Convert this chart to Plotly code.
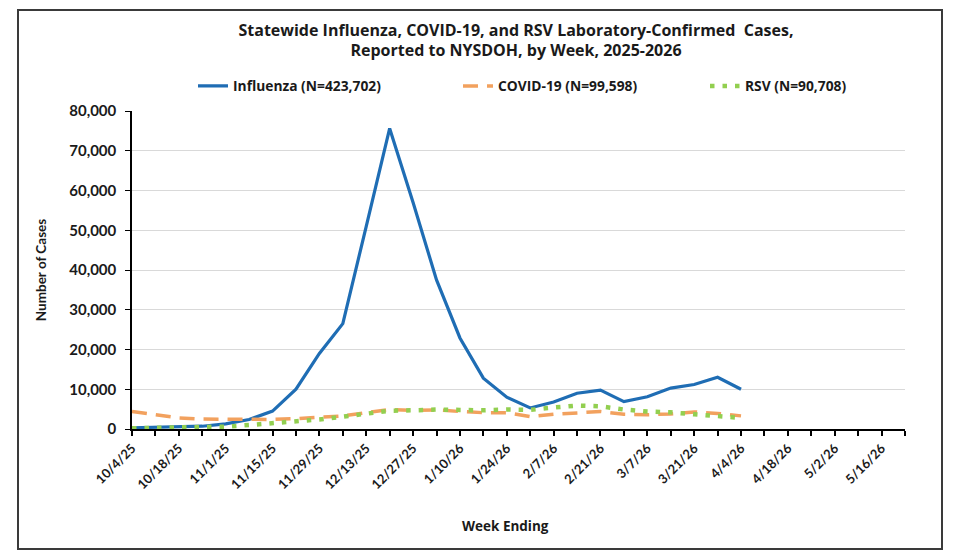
import plotly.graph_objects as go
import datetime as dt

# Week-ending dates (categories), 10/4/25 .. 5/23/26
start = dt.date(2025, 10, 4)
weeks = [start + dt.timedelta(days=7 * i) for i in range(34)]
week_labels = [f"{d.month}/{d.day}/{d.year % 100}" for d in weeks]

influenza = [300, 400, 500, 700, 1300, 2400, 4500, 10000, 19000, 26500, 51000, 75600,
             57000, 37500, 22900, 12800, 8000, 5300, 6800, 9000, 9800, 6900, 8100,
             10300, 11200, 13000, 10000]
covid = [4400, 3500, 2800, 2500, 2400, 2400, 2400, 2600, 2900, 3300, 4100, 4900,
         4700, 4800, 4400, 4100, 4100, 3100, 3700, 4100, 4400, 3700, 3600, 3800,
         4300, 3900, 3300]
rsv = [200, 250, 300, 400, 600, 1000, 1400, 1900, 2400, 3100, 3900, 4600, 4700,
       4900, 4800, 4700, 4900, 4800, 5400, 5900, 5700, 4900, 4400, 4200, 3700,
       3200, 2800]

series_names = ["Influenza (N=423,702)", "COVID-19 (N=99,598)", "RSV (N=90,708)"]

FONT = "Lato, Open Sans, sans-serif"
FONT2 = "Open Sans, Lato, sans-serif"
TXT = "#1a1a1a"

# the page body has an 8px margin: work in window pixels, shift by OFF
OFF = 8
W, H = 955 - OFF, 550 - OFF
L, R, T, B = 132 - OFF, 50, 111 - OFF, 121
pw, ph = W - L - R, H - T - B


def px_x(x):
    return (x - OFF - L) / pw


def px_y(y):
    return (H - B - (y - OFF)) / ph


fig = go.Figure()
fig.add_trace(go.Scatter(x=weeks[:len(influenza)], y=influenza, mode="lines",
                         name=series_names[0], legend="legend",
                         line=dict(color="#1F6DB4", width=3.2)))
fig.add_trace(go.Scatter(x=weeks[:len(covid)], y=covid, mode="lines",
                         name=series_names[1], legend="legend2",
                         line=dict(color="#F2A15E", width=3.5, dash="15px,9px")))
fig.add_trace(go.Scatter(x=weeks[:len(rsv)], y=rsv, mode="lines",
                         name=series_names[2], legend="legend3",
                         line=dict(color="#92CF50", width=4.5, dash="4.5px,8px")))

legend_font = dict(family=FONT2, size=13.8, color=TXT, weight="bold")


def leg(xpx):
    return dict(orientation="h", x=px_x(xpx), xanchor="left", y=px_y(86),
                yanchor="middle", font=legend_font, bgcolor="rgba(0,0,0,0)")


fig.update_layout(
    width=W, height=H,
    margin=dict(l=L, r=R, t=T, b=B),
    paper_bgcolor="white", plot_bgcolor="white",
    font=dict(family=FONT, color=TXT, size=13, weight="bold"),
    title=dict(
        text="Statewide Influenza, COVID-19, and RSV Laboratory-Confirmed  Cases,<br>Reported to NYSDOH, by Week, 2025-2026",
        xref="container", yref="container",
        x=(516 - OFF) / W, xanchor="center", y=1 - (35.5 - OFF) / H, yanchor="middle",
        font=dict(family=FONT2, size=16, color=TXT, weight="bold"),
    ),
    legend=leg(193),
    legend2=leg(458),
    legend3=leg(705),
    showlegend=True,
    xaxis=dict(
        type="date",
        range=[weeks[0], weeks[-1]],
        tickvals=weeks[::2], ticktext=week_labels[::2],
        tickangle=-45,
        tickfont=dict(family=FONT, size=13, color=TXT, weight="bold"),
        ticks="outside", ticklen=5, tickcolor="black", tickwidth=1.5,
        minor=dict(ticks="outside", ticklen=5, tickcolor="black", tickwidth=1.5,
                   dtick=7 * 86400000, tick0=weeks[0], showgrid=False),
        showline=True, linecolor="black", linewidth=1.5,
        showgrid=False, zeroline=False,
    ),
    yaxis=dict(
        range=[0, 80000], dtick=10000, tickformat=",d",
        tickfont=dict(family=FONT, size=15, color=TXT, weight="bold"),
        ticks="outside", ticklen=5, tickcolor="black", tickwidth=1,
        ticklabelstandoff=6,
        showline=True, linecolor="black", linewidth=1.5,
        showgrid=True, gridcolor="#D9D9D9", gridwidth=1.2,
        zeroline=False,
        title=dict(text="Number of Cases", standoff=20,
                   font=dict(family=FONT, size=13.5, color=TXT, weight="bold")),
    ),
)

# x-axis title, placed where the reference has it
fig.add_annotation(text="Week Ending", xref="paper", yref="paper",
                   x=px_x(505), y=px_y(526), xanchor="center", yanchor="middle",
                   showarrow=False,
                   font=dict(family=FONT2, size=13.5, color=TXT, weight="bold"))

# outer chart-area border
fig.add_shape(type="rect", xref="paper", yref="paper",
              x0=px_x(18), x1=px_x(942), y0=px_y(549), y1=px_y(10),
              line=dict(color="#3a3a3a", width=2), fillcolor="rgba(0,0,0,0)",
              layer="below")

fig.write_html("out.html")
